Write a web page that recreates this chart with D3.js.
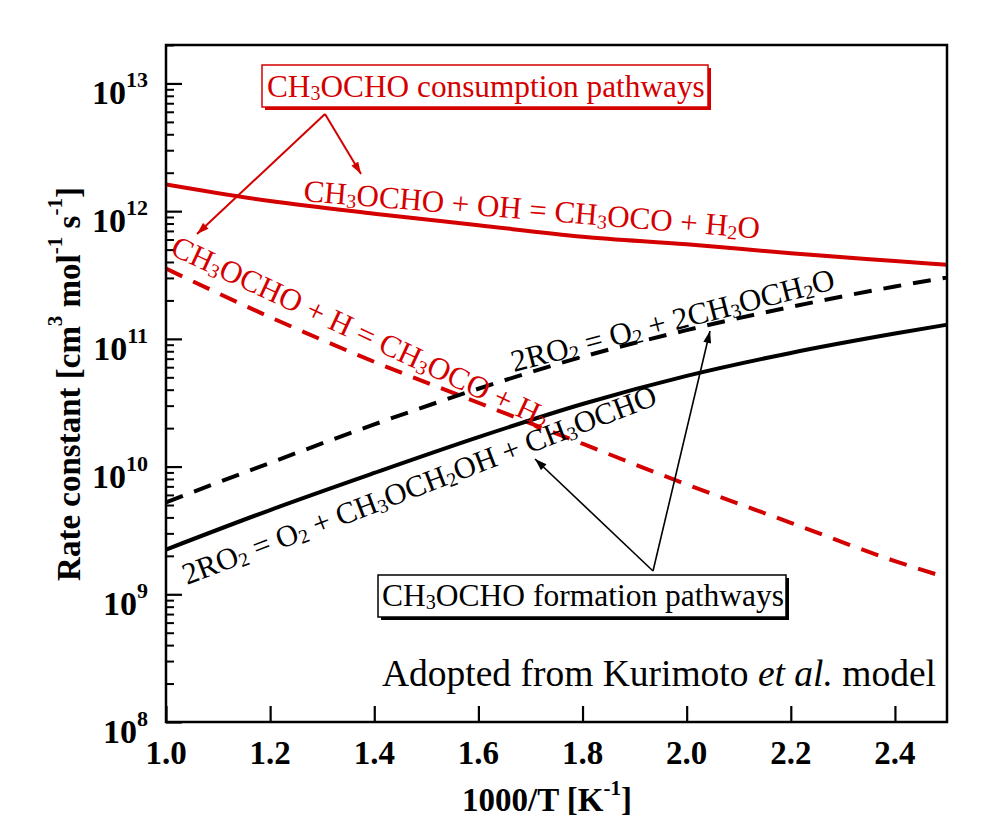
<!DOCTYPE html>
<html>
<head>
<meta charset="utf-8">
<script src="https://cdn.jsdelivr.net/npm/d3@7/dist/d3.min.js"></script>
<style>
  html, body { margin: 0; padding: 0; background: #fff; }
  text { font-family: "Liberation Serif", "Times New Roman", serif; }
</style>
</head>
<body>
<svg id="chart" width="1000" height="825"></svg>
<script>
// ---- data ----
const invT = [1.0, 1.2, 1.4, 1.6, 1.8, 2.0, 2.2, 2.4, 2.5];
const kOH   = [1.62e12, 1.20e12, 9.55e11, 7.76e11, 6.31e11, 5.50e11, 4.68e11, 4.07e11, 3.80e11];
const kH    = [3.55e11, 1.48e11, 6.61e10, 3.16e10, 1.51e10, 7.24e9, 3.63e9, 1.82e9, 1.35e9];
const kRO2a = [5.25e9, 1.07e10, 2.14e10, 4.07e10, 7.24e10, 1.17e11, 1.78e11, 2.57e11, 3.02e11];
const kRO2b = [2.24e9, 4.57e9, 8.91e9, 1.70e10, 3.09e10, 5.13e10, 7.76e10, 1.10e11, 1.29e11];
const xTicks = [1.0, 1.2, 1.4, 1.6, 1.8, 2.0, 2.2, 2.4];
const yExps = [8, 9, 10, 11, 12, 13];

const RED = "#d40000";
const svg = d3.select("#chart");
const L = 166, R = 947, T = 45, B = 722;
const x = d3.scaleLinear().domain([1.0, 2.5]).range([L, R]);
const y = d3.scaleLog().domain([1e8, 2e13]).range([B, T]);

svg.append("defs").append("clipPath").attr("id", "clip")
  .append("rect").attr("x", L).attr("y", T).attr("width", R - L).attr("height", B - T);

// markers
function marker(id, color) {
  svg.select("defs").append("marker").attr("id", id)
    .attr("viewBox", "0 0 12 8").attr("refX", 12).attr("refY", 4)
    .attr("markerWidth", 13).attr("markerHeight", 8)
    .attr("markerUnits", "userSpaceOnUse").attr("orient", "auto")
    .append("path").attr("d", "M0,0 L12,4 L0,8 Z").attr("fill", color);
}
marker("arrRed", RED);
marker("arrBlk", "#000");

// ---- axes (inside ticks) ----
const majorY = yExps.map(e => Math.pow(10, e));
const minorY = [];
for (let e = 8; e <= 13; e++) for (let m = 2; m <= 9; m++) { const v = m * Math.pow(10, e); if (v <= 2e13) minorY.push(v); }

svg.append("g").attr("transform", `translate(${L},0)`)
  .call(d3.axisLeft(y).tickValues(majorY).tickSize(-16).tickFormat(""))
  .call(g => g.select(".domain").remove())
  .call(g => g.selectAll("line").attr("stroke-width", 2.2));
svg.append("g").attr("transform", `translate(${L},0)`)
  .call(d3.axisLeft(y).tickValues(minorY).tickSize(-8).tickFormat(""))
  .call(g => g.select(".domain").remove())
  .call(g => g.selectAll("line").attr("stroke-width", 2));
svg.append("g").attr("transform", `translate(0,${B})`)
  .call(d3.axisBottom(x).tickValues(xTicks).tickSize(-16).tickFormat(""))
  .call(g => g.select(".domain").remove())
  .call(g => g.selectAll("line").attr("stroke-width", 2.2));

// y tick labels 10^n
yExps.forEach(e => {
  const t = svg.append("text").attr("x", 148).attr("y", y(Math.pow(10, e)) + 21)
    .attr("text-anchor", "end").attr("font-weight", "bold").attr("font-size", 34);
  t.append("tspan").text("10");
  t.append("tspan").attr("font-size", 22).attr("dy", -17).text(String(e));
});
// x tick labels
xTicks.forEach(v => {
  svg.append("text").attr("x", x(v)).attr("y", 764).attr("text-anchor", "middle")
    .attr("font-weight", "bold").attr("font-size", 33).text(v.toFixed(1));
});

// axis titles
const xt = svg.append("text").attr("x", 547).attr("y", 811).attr("text-anchor", "middle")
  .attr("font-weight", "bold").attr("font-size", 33);
xt.append("tspan").text("1000/T [K");
xt.append("tspan").attr("font-size", 21).attr("dy", -16).text("-1");
xt.append("tspan").attr("dy", 16).text("]");

const yt = svg.append("text").attr("transform", "translate(80,384) rotate(-90)")
  .attr("text-anchor", "middle").attr("font-weight", "bold").attr("font-size", 33);
yt.append("tspan").text("Rate constant [cm");
yt.append("tspan").attr("font-size", 21).attr("dy", -18).text("3");
yt.append("tspan").attr("dy", 18).text(" mol");
yt.append("tspan").attr("font-size", 21).attr("dy", -18).text("-1");
yt.append("tspan").attr("dy", 18).text(" s");
yt.append("tspan").attr("font-size", 21).attr("dy", -18).text("-1");
yt.append("tspan").attr("dy", 18).text("]");

// ---- curves ----
const line = d3.line().x(d => x(d[0])).y(d => y(d[1])).curve(d3.curveMonotoneX);
const series = [
  { k: kOH, color: RED, dash: null },
  { k: kH, color: RED, dash: "18,12" },
  { k: kRO2a, color: "#000", dash: "18,12" },
  { k: kRO2b, color: "#000", dash: null }
];
const cg = svg.append("g").attr("clip-path", "url(#clip)");
series.forEach(s => {
  cg.append("path").datum(invT.map((v, i) => [v, s.k[i]]))
    .attr("d", line).attr("fill", "none").attr("stroke", s.color)
    .attr("stroke-width", 4).attr("stroke-dasharray", s.dash);
});

// frame
svg.append("rect").attr("x", L).attr("y", T).attr("width", R - L).attr("height", B - T)
  .attr("fill", "none").attr("stroke", "#000").attr("stroke-width", 2.5);

// ---- labels with subscripts ----
function chem(parent, segs, attrs) {
  const t = parent.append("text");
  Object.entries(attrs).forEach(([k, v]) => t.attr(k, v));
  let sub = false;
  segs.forEach(s => {
    if (s.startsWith("_")) {
      t.append("tspan").attr("font-size", "64%").attr("dy", 3).text(s.slice(1));
      sub = true;
    } else {
      const ts = t.append("tspan").text(s);
      if (sub) { ts.attr("dy", -3); sub = false; }
    }
  });
  return t;
}

chem(svg, ["CH", "_3", "OCHO + OH = CH", "_3", "OCO + H", "_2", "O"],
  { transform: "translate(303,201) rotate(4.7)", fill: RED, "font-size": 31 });
chem(svg, ["CH", "_3", "OCHO + H = CH", "_3", "OCO + H", "_2"],
  { transform: "translate(169,254) rotate(25)", fill: RED, "font-size": 31 });
chem(svg, ["2RO", "_2", " = O", "_2", " + 2CH", "_3", "OCH", "_2", "O"],
  { transform: "translate(514,372) rotate(-14.5)", fill: "#000", "font-size": 31 });
chem(svg, ["2RO", "_2", " = O", "_2", " + CH", "_3", "OCH", "_2", "OH + CH", "_3", "OCHO"],
  { transform: "translate(187,585) rotate(-21)", fill: "#000", "font-size": 30.5 });

// boxes
function box(bx, by, bw, bh, color) {
  svg.append("rect").attr("x", bx + 3).attr("y", by + 3).attr("width", bw).attr("height", bh)
    .attr("fill", color);
  svg.append("rect").attr("x", bx).attr("y", by).attr("width", bw).attr("height", bh)
    .attr("fill", "#fff").attr("stroke", color).attr("stroke-width", 1.5);
}
box(262, 65, 446, 42, RED);
chem(svg, ["CH", "_3", "OCHO consumption pathways"], { x: 267, y: 97, fill: RED, "font-size": 31.3 });
box(378, 575, 408, 42, "#000");
chem(svg, ["CH", "_3", "OCHO formation pathways"], { x: 382, y: 606, fill: "#000", "font-size": 31.5 });

// arrows
function arrow(x1, y1, x2, y2, color, id) {
  svg.append("line").attr("x1", x1).attr("y1", y1).attr("x2", x2).attr("y2", y2)
    .attr("stroke", color).attr("stroke-width", color === RED ? 2 : 1.6)
    .attr("marker-end", `url(#${id})`);
}
arrow(325, 114, 361, 174, RED, "arrRed");
arrow(325, 114, 197, 234, RED, "arrRed");
arrow(653, 571, 710, 331, "#000", "arrBlk");
arrow(653, 571, 535, 459, "#000", "arrBlk");

// source note
const note = svg.append("text").attr("x", 936).attr("y", 686).attr("text-anchor", "end")
  .attr("font-size", 37.5);
note.append("tspan").text("Adopted from Kurimoto ");
note.append("tspan").attr("font-style", "italic").text("et al.");
note.append("tspan").text(" model");
</script>
</body>
</html>
